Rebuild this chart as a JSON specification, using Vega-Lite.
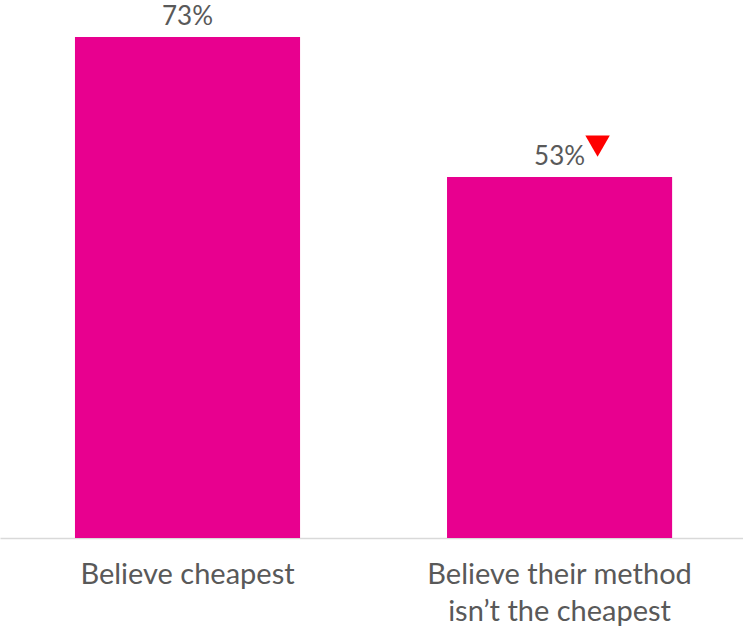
{
  "$schema": "https://vega.github.io/schema/vega-lite/v6.json",
  "width": 743,
  "height": 538,
  "autosize": "none",
  "padding": {"top": 0, "left": 0, "right": 0, "bottom": 88},
  "background": "white",
  "config": {"view": {"stroke": null}, "font": "Lato"},
  "data": {
    "values": [
      {"group": "Believe cheapest", "value": 73, "label": "73%", "change": "none"},
      {"group": "Believe their method isn’t the cheapest", "value": 52.6, "label": "53%", "change": "down"}
    ]
  },
  "encoding": {
    "x": {
      "field": "group",
      "type": "nominal",
      "sort": null,
      "scale": {"paddingInner": 0.395, "paddingOuter": 0.196, "align": 0.514},
      "axis": {
        "title": null,
        "labelAngle": 0,
        "labelFont": "Lato",
        "labelFontSize": 29,
        "labelColor": "#595959",
        "labelPadding": 22,
        "labelLineHeight": 37,
        "labelBaseline": "top",
        "labelLimit": 400,
        "ticks": false,
        "domainColor": "#D9D9D9",
        "domainWidth": 1.5,
        "labelExpr": "datum.label == 'Believe their method isn’t the cheapest' ? ['Believe their method', 'isn’t the cheapest'] : datum.label"
      }
    },
    "y": {
      "field": "value",
      "type": "quantitative",
      "scale": {"domain": [0, 78.4], "nice": false},
      "axis": null
    }
  },
  "layer": [
    {"mark": {"type": "bar", "color": "#E8008F"}},
    {
      "mark": {"type": "text", "baseline": "alphabetic", "dy": -12, "fontSize": 26, "color": "#595959", "font": "Lato"},
      "encoding": {"text": {"field": "label"}}
    },
    {
      "transform": [{"filter": "datum.change == 'down'"}],
      "mark": {"type": "point", "shape": "triangle-down", "filled": true, "color": "#FF0000", "opacity": 1, "size": 600, "xOffset": 38, "yOffset": -31}
    }
  ]
}
